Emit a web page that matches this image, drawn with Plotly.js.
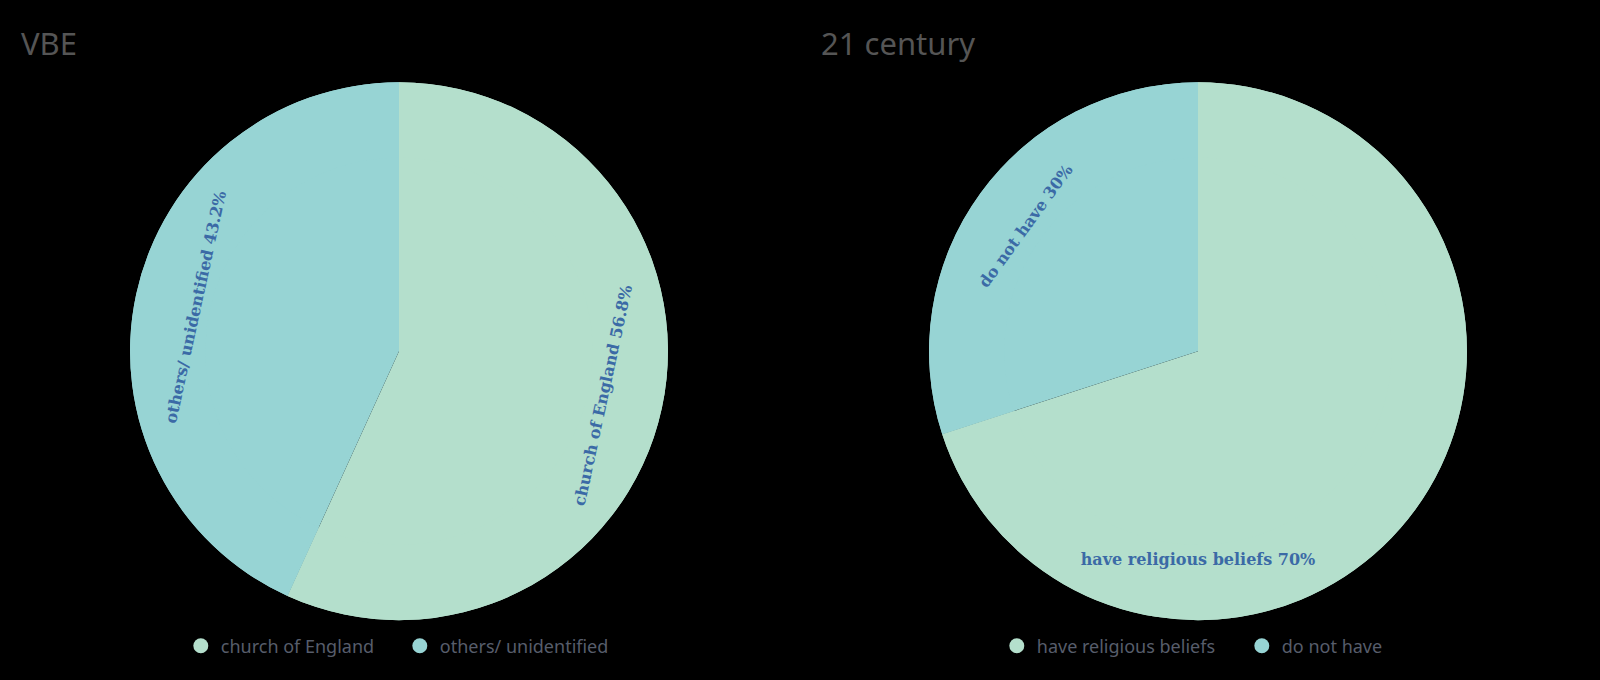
<!DOCTYPE html>
<html>
<head>
<meta charset="utf-8">
<script src="https://cdn.plot.ly/plotly-3.0.1.min.js"></script>
<style>html,body{margin:0;padding:0;background:#000;}#chart{width:1600px;height:680px;}</style>
</head>
<body>
<div id="chart"></div>
<script>
const vbeLabels = ["church of England", "others/ unidentified"];
const vbeValues = [56.8, 43.2];
const c21Labels = ["have religious beliefs", "do not have"];
const c21Values = [70, 30];
const sliceColors = ["#b4dfcc", "#97d4d4"];
const titles = ["VBE", "21 century"];

const labelFont = {family: "DejaVu Serif", size: 16, color: "#3b6aa6", weight: "bold", style: "normal"};
const yDom = [0.088, 0.879];

function basePie(labels, values, xdom) {
  return {
    type: "pie", labels: labels, values: values,
    marker: {colors: sliceColors, line: {width: 0}},
    direction: "clockwise", rotation: 0, sort: false,
    textinfo: "none", hoverinfo: "label+percent",
    domain: {x: xdom, y: yDom}, showlegend: false
  };
}
function ringPie(labels, values, xdom) {
  return {
    type: "pie", labels: labels, values: values, hole: 0.72,
    marker: {colors: sliceColors, line: {width: 0}},
    direction: "clockwise", rotation: 0, sort: false,
    texttemplate: "%{label} %{percent}",
    textposition: "inside", insidetextorientation: "tangential",
    insidetextfont: labelFont,
    hoverinfo: "label+percent",
    domain: {x: xdom, y: yDom}, showlegend: false
  };
}
function legendDot(name, color, legend) {
  return {type: "scatter", mode: "markers", x: [null], y: [null], name: name,
    marker: {symbol: "circle", size: 15, color: color}, legend: legend, showlegend: true,
    hoverinfo: "skip"};
}
const xL = [0.08125, 0.4175], xR = [0.5806, 0.9169];
const data = [
  basePie(vbeLabels, vbeValues, xL),
  ringPie(vbeLabels, vbeValues, xL),
  basePie(c21Labels, c21Values, xR),
  ringPie(c21Labels, c21Values, xR),
  legendDot(vbeLabels[0], sliceColors[0], "legend"),
  legendDot(vbeLabels[1], sliceColors[1], "legend"),
  legendDot(c21Labels[0], sliceColors[0], "legend2"),
  legendDot(c21Labels[1], sliceColors[1], "legend2")
];
const legendFont = {family: "Noto Sans", size: 18, color: "#575d6b"};
const layout = {
  width: 1600, height: 680,
  paper_bgcolor: "#000", plot_bgcolor: "#000",
  margin: {l: 0, r: 0, t: 0, b: 0},
  xaxis: {visible: false}, yaxis: {visible: false},
  legend: {orientation: "h", x: 0.113, xanchor: "left", y: 0.05, yanchor: "middle",
    font: legendFont, bgcolor: "rgba(0,0,0,0)", itemwidth: 30, traceorder: "normal",
    entrywidth: 174, entrywidthmode: "pixels"},
  legend2: {orientation: "h", x: 0.623, xanchor: "left", y: 0.05, yanchor: "middle",
    font: legendFont, bgcolor: "rgba(0,0,0,0)", itemwidth: 30, traceorder: "normal",
    entrywidth: 200, entrywidthmode: "pixels"},
  annotations: [
    {text: titles[0], xref: "paper", yref: "paper", x: 0.012, y: 0.937, xanchor: "left", yanchor: "middle",
     showarrow: false, font: {family: "Noto Sans", size: 31, color: "#555555"}},
    {text: titles[1], xref: "paper", yref: "paper", x: 0.512, y: 0.937, xanchor: "left", yanchor: "middle",
     showarrow: false, font: {family: "Noto Sans", size: 31, color: "#555555"}}
  ]
};
Plotly.newPlot("chart", data, layout, {displayModeBar: false, responsive: false});
</script>
</body>
</html>
